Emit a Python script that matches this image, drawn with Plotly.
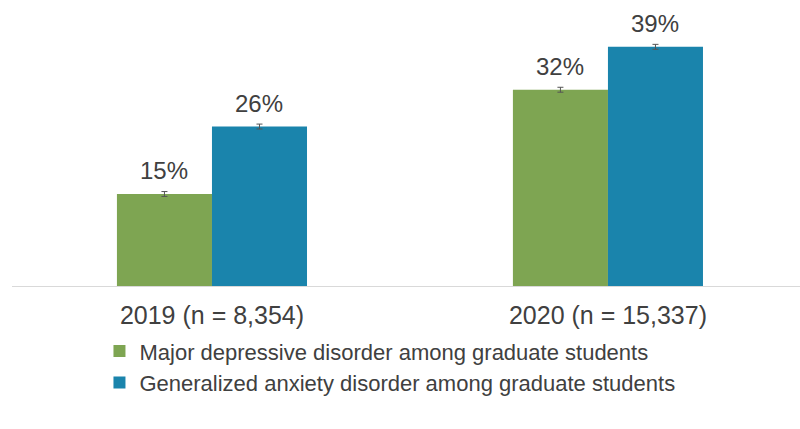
import plotly.graph_objects as go

categories = ["2019 (n = 8,354)", "2020 (n = 15,337)"]
series_names = [
    "Major depressive disorder among graduate students",
    "Generalized anxiety disorder among graduate students",
]
mdd_values = [15, 32]
gad_values = [26, 39]
mdd_err = [0.4, 0.4]
gad_err = [0.4, 0.4]
mdd_labels = ["15%", "32%"]
gad_labels = ["26%", "39%"]

GREEN = "#7ea552"
BLUE = "#1a84ac"
TEXT = "#404040"
FONT = "Liberation Sans, Arial, sans-serif"

fig = go.Figure()
fig.add_trace(go.Bar(
    x=categories, y=mdd_values, name=series_names[0],
    marker=dict(color=GREEN, line=dict(width=0)),
    error_y=dict(type="data", array=mdd_err, color="#555555", thickness=1, width=3),
))
fig.add_trace(go.Bar(
    x=categories, y=gad_values, name=series_names[1],
    marker=dict(color=BLUE, line=dict(width=0)),
    error_y=dict(type="data", array=gad_err, color="#555555", thickness=1, width=3),
))

BAR_HALF = 47.5
for cat, v, lab in zip(categories, mdd_values, mdd_labels):
    fig.add_annotation(x=cat, y=v, text=lab, showarrow=False, xshift=-BAR_HALF,
                       yanchor="bottom", yshift=8,
                       font=dict(family=FONT, size=24, color=TEXT))
for cat, v, lab in zip(categories, gad_values, gad_labels):
    fig.add_annotation(x=cat, y=v, text=lab, showarrow=False, xshift=BAR_HALF,
                       yanchor="bottom", yshift=8,
                       font=dict(family=FONT, size=24, color=TEXT))

fig.update_layout(
    width=800, height=429,
    margin=dict(l=12, r=0, t=10, b=143),
    paper_bgcolor="white", plot_bgcolor="white",
    barmode="group", bargap=0.52, bargroupgap=0,
    font=dict(family=FONT, color=TEXT),
    showlegend=True,
    legend=dict(
        orientation="v", x=0.111, xanchor="left", y=-0.16, yanchor="top",
        font=dict(family=FONT, size=22, color=TEXT),
        itemwidth=30, tracegroupgap=0, bgcolor="rgba(0,0,0,0)",
    ),
    xaxis=dict(
        range=[-0.505, 1.485], showline=True, linecolor="#d9d9d9", linewidth=1,
        showgrid=False, ticks="", ticklabelstandoff=7,
        tickfont=dict(family=FONT, size=25, color=TEXT),
    ),
    yaxis=dict(range=[0, 45], visible=False, showgrid=False, zeroline=False),
)

fig.write_html(
    "out.html",
    config={"displayModeBar": False},
    post_script="document.body.style.margin='0';document.body.style.overflow='hidden';",
)
